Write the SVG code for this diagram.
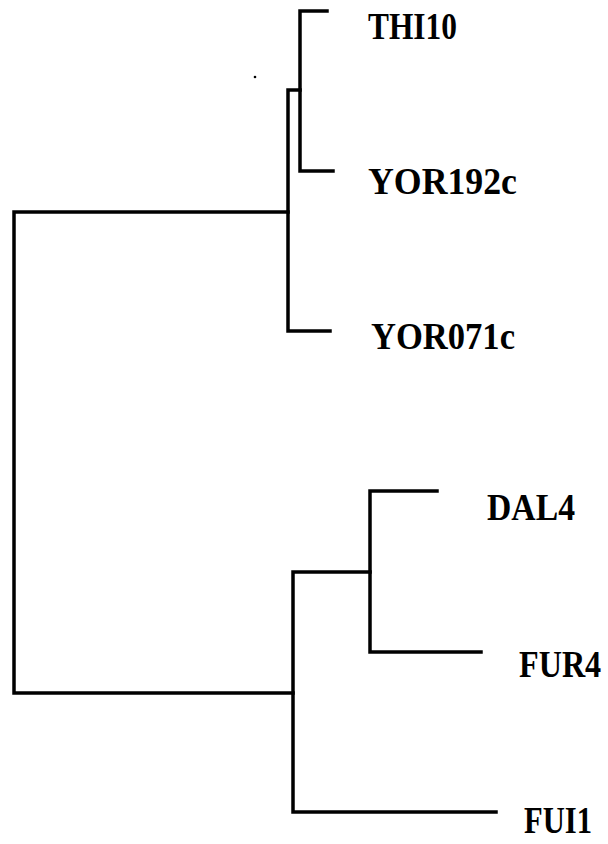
<svg xmlns="http://www.w3.org/2000/svg" width="608" height="844" viewBox="0 0 608 844">
<style>
.br{fill:none;stroke:#000;stroke-width:3.5;stroke-linejoin:miter;stroke-linecap:square}
.lb{font-family:"Liberation Serif","Times New Roman",serif;font-weight:bold;font-size:37px;fill:#000}
</style>
<rect width="608" height="844" fill="#fff"/>
<g id="connectors">
<path class="br" d="M288,212 H14 V693 H293"/>
<path class="br" d="M300,90 H288 V331 H330"/>
<path class="br" d="M327,11 H300 V171 H333"/>
<path class="br" d="M370,572 H293 V812 H496"/>
<path class="br" d="M437,491 H370 V652 H481"/>
</g>
<circle cx="255" cy="77" r="1.3" fill="#000"/>
<g id="THI10"><text class="lb" x="368" y="39" textLength="89" lengthAdjust="spacingAndGlyphs">THI10</text></g>
<g id="YOR192c"><text class="lb" x="368" y="194" textLength="149" lengthAdjust="spacingAndGlyphs">YOR192c</text></g>
<g id="YOR071c"><text class="lb" x="371" y="349" textLength="144" lengthAdjust="spacingAndGlyphs">YOR071c</text></g>
<g id="DAL4"><text class="lb" x="487" y="520" textLength="88" lengthAdjust="spacingAndGlyphs">DAL4</text></g>
<g id="FUR4"><text class="lb" transform="translate(519,677) scale(0.87,1)" x="0" y="0">FUR4</text></g>
<g id="FUI1"><text class="lb" x="524" y="833" textLength="68" lengthAdjust="spacingAndGlyphs">FUI1</text></g>
</svg>
